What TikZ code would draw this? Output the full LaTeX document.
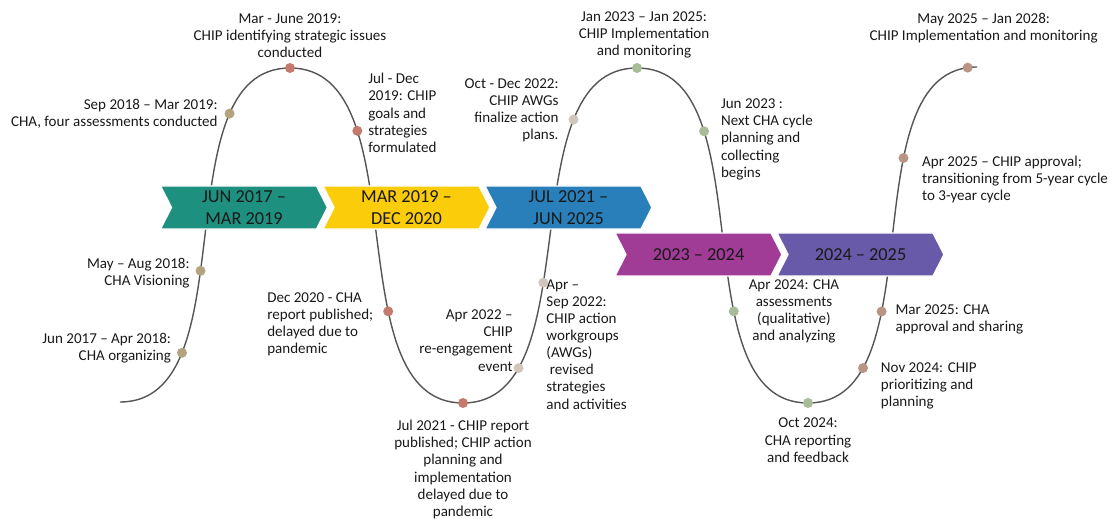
\documentclass[tikz,border=0pt]{standalone}
\usepackage{fontspec}
\setmainfont{Carlito}
\usepackage{tikz}
\usetikzlibrary{shapes.symbols, positioning}
\definecolor{wavegray}{RGB}{85, 85, 85}
\definecolor{dottan}{RGB}{179, 164, 127}
\definecolor{dotsalmon}{RGB}{196, 122, 108}
\definecolor{dotbeige}{RGB}{208, 198, 188}
\definecolor{dotsage}{RGB}{168, 188, 152}
\definecolor{dotrose}{RGB}{186, 149, 133}
\definecolor{phaseteal}{RGB}{30, 144, 127}
\definecolor{phaseyellow}{RGB}{250, 204, 10}
\definecolor{phaseblue}{RGB}{41, 127, 186}
\definecolor{phasemagenta}{RGB}{160, 60, 150}
\definecolor{phasepurple}{RGB}{104, 90, 168}

\begin{document}
\begin{tikzpicture}[
    x=0.025cm, y=0.025cm,
    wave/.style={draw=wavegray, line width=1pt},
    dot/.style={circle, inner sep=0pt, minimum size=0.25cm},
    lbl/.style={font=\fontsize{10.7}{12.2}\selectfont, inner sep=0pt, text=black!90},
    phase/.style={signal, signal to=east, signal from=west, signal pointer angle=126, draw=white, line width=1pt, minimum height=1.075cm, minimum width=4.175cm, inner sep=0pt, font=\fontsize{13}{15.6}\selectfont, align=center, text=black!90}
]
    \useasboundingbox (0,0) rectangle (1112,519);

    % Turning points of the wave
    \coordinate (b0) at (120,117);
    \coordinate (t1) at (290,451);
    \coordinate (b1) at (463,116);
    \coordinate (t2) at (637,451);
    \coordinate (b2) at (808,116);
    \coordinate (t3) at (977,452);

    % Wave and milestones
    \draw[wave] (b0) .. controls +(130,0) and +(-130,0) .. (t1)
            node[dot, fill=dottan, pos=0.242] (p1) {}
            node[dot, fill=dottan, pos=0.428] (p2) {}
            node[dot, fill=dottan, pos=0.768] (p3) {}
            node[dot, fill=dotsalmon, pos=1] (p4) {}
        .. controls +(130,0) and +(-130,0) .. (b1)
            node[dot, fill=dotsalmon, pos=0.277] (p5) {}
            node[dot, fill=dotsalmon, pos=0.656] (p6) {}
            node[dot, fill=dotsalmon, pos=1] (p7) {}
        .. controls +(130,0) and +(-130,0) .. (t2)
            node[dot, fill=dotbeige, pos=0.2] (p8) {}
            node[dot, fill=dotbeige, pos=0.405] (p9) {}
            node[dot, fill=dotbeige, pos=0.752] (p10) {}
            node[dot, fill=dotsage, pos=1] (p11) {}
        .. controls +(130,0) and +(-130,0) .. (b2)
            node[dot, fill=dotsage, pos=0.278] (p12) {}
            node[dot, fill=dotsage, pos=0.656] (p13) {}
            node[dot, fill=dotsage, pos=1] (p14) {}
        .. controls +(130,0) and +(-130,0) .. (t3)
            node[dot, fill=dotrose, pos=0.2] (p15) {}
            node[dot, fill=dotrose, pos=0.343] (p16) {}
            node[dot, fill=dotrose, pos=0.658] (p17) {}
            node[dot, fill=dotrose, pos=0.975] (p18) {};

    % Phases
    \node[phase, fill=phaseteal] (ph1) at (244,311.5) {JUN 2017 –\\MAR 2019};
    \node[phase, fill=phaseyellow] (ph2) at (406.5,311.5) {MAR 2019 –\\DEC 2020};
    \node[phase, fill=phaseblue] (ph3) at (568.5,311.5) {JUL 2021 –\\JUN 2025};
    \node[phase, fill=phasemagenta] (ph4) at (698.5,264.5) {2023 – 2024};
    \node[phase, fill=phasepurple] (ph5) at (860.5,264.5) {2024 – 2025};

    % Milestone labels
    \node[lbl, align=right, left=0.125cm of p1, yshift=0.125cm] (l1) {Jun 2017 – Apr 2018:\\CHA organizing};
    \node[lbl, align=right, left=0.125cm of p2, yshift=-0.05cm] (l2) {May – Aug 2018:\\CHA Visioning};
    \node[lbl, align=right, left=0.15cm of p3] (l3) {Sep 2018 – Mar 2019:\\CHA, four assessments conducted};
    \node[lbl, align=center, above=0.1cm of p4] (l4) {Mar - June 2019:\\CHIP identifying strategic issues\\conducted};
    \node[lbl, align=left, right=0.125cm of p5, yshift=0.45cm] (l5) {Jul - Dec\\2019: CHIP\\goals and\\strategies\\formulated};
    \node[lbl, align=left, left=0.225cm of p6, yshift=-0.325cm] (l6) {Dec 2020 - CHA\\report published;\\delayed due to\\pandemic};
    \node[lbl, align=center, below=0.28cm of p7] (l7) {Jul 2021 - CHIP report\\published; CHIP action\\planning and\\implementation\\delayed due to\\pandemic};
    \node[lbl, align=right, left=0cm of p8, yshift=0.69cm] (l8) {Apr 2022 –\\CHIP\\re-engagement\\event};
    \node[lbl, align=left, below right=-0.19cm and -0.03cm of p9] (l9) {Apr –\\Sep 2022:\\CHIP action\\workgroups\\(AWGs)\\\ revised\\strategies\\and activities};
    \node[lbl, align=right, left=0.225cm of p10, yshift=0.225cm] (l10) {Oct - Dec 2022:\\CHIP AWGs\\finalize action\\plans.};
    \node[lbl, align=center, above=0.1cm of p11, xshift=0.175cm] (l11) {Jan 2023 – Jan 2025:\\CHIP Implementation\\and monitoring};
    \node[lbl, align=left, right=0.275cm of p12, yshift=-0.2cm] (l12) {Jun 2023 :\\Next CHA cycle\\planning and\\collecting\\begins};
    \node[lbl, align=center, right=0.225cm of p13] (l13) {Apr 2024: CHA\\assessments\\(qualitative)\\and analyzing};
    \node[lbl, align=center, below=0.23cm of p14] (l14) {Oct 2024:\\CHA reporting\\and feedback};
    \node[lbl, align=left, below right=-0.24cm and 0.34cm of p15] (l15) {Nov 2024: CHIP\\prioritizing and\\planning};
    \node[lbl, align=left, right=0.2cm of p16, yshift=-0.2cm] (l16) {Mar 2025: CHA\\approval and sharing};
    \node[lbl, align=left, below right=-0.16cm and 0.36cm of p17] (l17) {Apr 2025 – CHIP approval;\\transitioning from 5-year cycle\\to 3-year cycle};
    \node[lbl, align=center, above=0.47cm of p18, xshift=0.4cm] (l18) {May 2025 – Jan 2028:\\CHIP Implementation and monitoring};
\end{tikzpicture}
\end{document}
